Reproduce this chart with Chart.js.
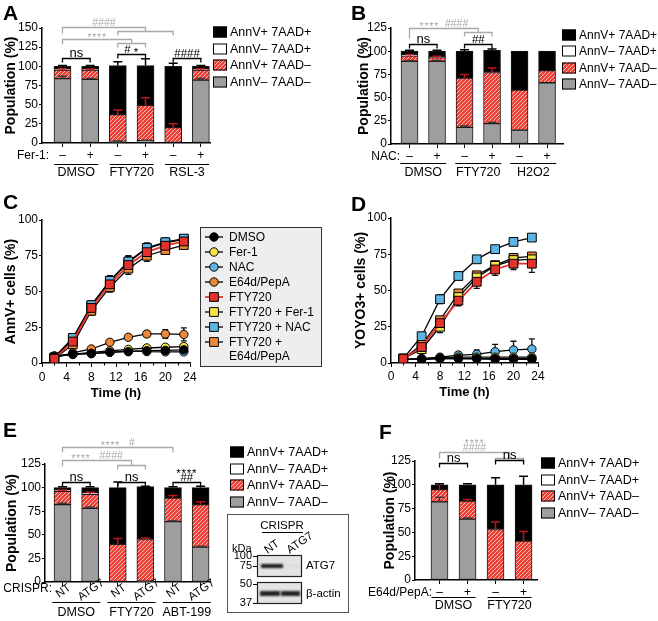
<!DOCTYPE html>
<html>
<head>
<meta charset="utf-8">
<title>Cell death panels A-F</title>
<script src="https://cdn.jsdelivr.net/npm/chart.js@4.4.1/dist/chart.umd.min.js"></script>
<style>
  html, body { margin: 0; background: #fff; }
  #fig { position: relative; width: 658px; height: 621px; overflow: hidden; background: #fff;
         font-family: "Liberation Sans", Arial, sans-serif; }
  #fig canvas { position: absolute; }
  .panel { position: absolute; font-weight: bold; font-size: 21px; line-height: 21px; color: #000; }
</style>
</head>
<body>
<div id="fig">
  <canvas id="chartA" width="330" height="190" style="left:0;top:0"></canvas>
  <canvas id="chartB" width="328" height="190" style="left:330px;top:0"></canvas>
  <canvas id="chartC" width="330" height="215" style="left:0;top:195px"></canvas>
  <canvas id="chartD" width="328" height="215" style="left:330px;top:195px"></canvas>
  <canvas id="chartE" width="330" height="211" style="left:0;top:410px"></canvas>
  <canvas id="chartF" width="328" height="211" style="left:330px;top:410px"></canvas>
  <canvas id="blot" width="140" height="116" style="left:220px;top:505px"></canvas>
  <div class="panel" style="left:3px;top:2px">A</div>
  <div class="panel" style="left:351px;top:2px">B</div>
  <div class="panel" style="left:3px;top:191px">C</div>
  <div class="panel" style="left:351px;top:193px">D</div>
  <div class="panel" style="left:3px;top:419px">E</div>
  <div class="panel" style="left:379px;top:421px">F</div>
</div>
<script>
// ---- stacked bars (A, B, E, F), bottom to top:
// AnnV– 7AAD– (live), AnnV+ 7AAD– (early), AnnV– 7AAD+ (pi), AnnV+ 7AAD+ (late)
const stackLabels = ['AnnV+ 7AAD+', 'AnnV– 7AAD+', 'AnnV+ 7AAD–', 'AnnV– 7AAD–'];

const aTicks = ['–', '+', '–', '+', '–', '+'];
const aGroups = ['DMSO', 'FTY720', 'RSL-3'];
const aLive = [84, 83, 2, 3, 0, 82];
const aLiveErr = [3, 1, 0.5, 0.5, 0, 2];
const aEarly = [11, 12, 35, 46, 20, 13];
const aEarlyErr = [2, 1.5, 6, 10, 5, 2];
const aPi = [1, 1, 0, 0, 0, 1];
const aLate = [4, 4, 64, 52, 80, 4];
const aLateErr = [1, 1, 5, 9, 4, 1];

const bTicks = ['–', '+', '–', '+', '–', '+'];
const bGroups = ['DMSO', 'FTY720', 'H2O2'];
const bLive = [89, 89, 18, 22, 15, 66];
const bLiveErr = [1, 1, 1.5, 1.5, 0, 0];
const bEarly = [6, 4, 53, 55, 43, 13];
const bEarlyErr = [1.5, 1.5, 4, 5, 0, 0];
const bPi = [1, 1, 0, 0, 0, 0];
const bLate = [4, 6, 29, 24, 42, 21];
const bLateErr = [1, 1, 1.5, 1.5, 0, 0];

const eTicks = ['NT', 'ATG7', 'NT', 'ATG7', 'NT', 'ATG7'];
const eGroups = ['DMSO', 'FTY720', 'ABT-199'];
const eLive = [82, 78, 0, 1, 64, 37];
const eLiveErr = [1.5, 1.5, 0, 0, 1, 1];
const eEarly = [14, 15, 40, 44, 25, 45];
const eEarlyErr = [1.5, 2, 6, 1.5, 2.5, 3];
const ePi = [1, 2, 0, 0, 0, 0];
const eLate = [3, 5, 60, 56, 11, 18];
const eLateErr = [1, 1, 6, 0.5, 1, 1.5];

const fTicks = ['–', '+', '–', '+'];
const fGroups = ['DMSO', 'FTY720'];
const fLive = [82, 64, 0, 0];
const fLiveErr = [5, 1, 0, 0];
const fEarly = [13, 19, 53, 41];
const fEarlyErr = [6, 1.5, 8, 10];
const fPi = [0, 0, 0, 0];
const fLate = [5, 17, 47, 59];
const fLateErr = [1, 1, 7.5, 9];

// ---- time courses (C: AnnV+, D: YOYO3+)
const hours = [2, 5, 8, 11, 14, 17, 20, 23];
const seriesNames = ['DMSO', 'Fer-1', 'NAC', 'E64d/PepA', 'FTY720',
                     'FTY720 + Fer-1', 'FTY720 + NAC', 'FTY720 + E64d/PepA'];

const cDmso = [5, 6.3, 6.8, 7.5, 7.9, 8.6, 8.8, 9.2];
const cDmsoErr = [1, 1, 0.8, 0.8, 1, 1.2, 1.5, 1.5];
const cFer1 = [4.5, 6, 7.5, 8.5, 9.5, 10.5, 11, 11.5];
const cFer1Err = [0.5, 0.8, 1, 1, 1.2, 1.5, 1.5, 1.8];
const cNac = [4.5, 6, 6.5, 7.5, 8.5, 8, 7.8, 7.8];
const cNacErr = [0.5, 0.8, 1, 1, 1.2, 1.5, 1.5, 1.5];
const cE64 = [4, 7, 9.8, 14.5, 18, 20.3, 20.3, 20];
const cE64Err = [0.5, 0.8, 1, 1.2, 1.5, 2, 3, 4.5];
const cFty = [3, 15, 38.5, 55, 68.5, 77.5, 82, 85];
const cFtyErr = [1, 2.5, 3.5, 4, 4, 4, 3, 2.5];
const cFtyFer1 = [3.5, 16.5, 40, 57, 70.5, 80, 84, 86.5];
const cFtyFer1Err = [1, 2.5, 3, 3.5, 4, 3.5, 3, 2.5];
const cFtyNac = [4, 17.5, 40.5, 57.5, 71, 80.5, 84.5, 87];
const cFtyNacErr = [1, 3, 3, 3.5, 4, 3.5, 3, 2];
const cFtyE64 = [3, 13, 36.5, 53, 66, 75, 79, 82.5];
const cFtyE64Err = [1, 2.5, 3, 3.5, 4, 4, 3, 2];

const dDmso = [2.5, 2.5, 3, 3, 3, 3, 3, 3];
const dDmsoErr = [0.5, 0.5, 0.5, 0.5, 0.5, 0.5, 0.5, 0.5];
const dFer1 = [2.5, 3, 3.5, 4, 4, 4, 4, 4];
const dFer1Err = [0.5, 0.5, 0.5, 1, 1, 1, 1, 1];
const dNac = [2.5, 3, 4, 5.5, 6, 7.8, 9, 9.6];
const dNacErr = [0.5, 1, 1, 2, 3, 5, 6, 7];
const dE64 = [2.5, 2.5, 3, 3, 2.8, 2.5, 2.5, 2.5];
const dE64Err = [0.5, 0.5, 0.5, 0.5, 0.5, 0.5, 0.5, 0.5];
const dFty = [3, 11, 27.5, 43, 56, 64.5, 68.5, 68.5];
const dFtyErr = [0.5, 2, 3, 3.5, 4.5, 4, 4, 6];
const dFtyFer1 = [3, 9.5, 25, 45.5, 59, 67, 71, 71.5];
const dFtyFer1Err = [0.5, 2, 4, 3, 3, 3, 3, 3.5];
const dFtyNac = [3, 18.5, 44, 60, 71.5, 78.5, 83.5, 86.5];
const dFtyNacErr = [0.5, 2.5, 3, 1, 1, 1, 1, 1];
const dFtyE64 = [3, 12.5, 29.5, 48, 60.5, 67.5, 72.5, 73.5];
const dFtyE64Err = [0.5, 2, 2, 2, 2, 2, 2, 2];

// ---------------------------------------------------------------
const FAM = '"Liberation Sans", Arial, sans-serif';
const font = (size, weight) => (weight ? weight + ' ' : '') + size + 'px ' + FAM;
Chart.defaults.font.family = FAM;
Chart.defaults.color = '#000';

const GRAY = '#9e9e9e';
const LIGHT_GRAY = '#a9a9a9';

function hatchPattern() {
  const t = document.createElement('canvas');
  t.width = 4; t.height = 4;
  const g = t.getContext('2d');
  g.fillStyle = '#ef4038';
  g.fillRect(0, 0, 4, 4);
  g.strokeStyle = '#fbcfca';
  g.lineWidth = 0.9;
  g.beginPath();
  g.moveTo(0, 4); g.lineTo(4, 0);
  g.moveTo(-1, 1); g.lineTo(1, -1);
  g.moveTo(3, 5); g.lineTo(5, 3);
  g.stroke();
  return g.createPattern(t, 'repeat');
}
const HATCH = hatchPattern();

// significance text: asterisks sit lower, like the original
function sigText(ctx, s, cx, base, size) {
  const adv = ch => ctx.measureText(ch).width + (ch === '*' ? 0.8 : 0);
  let w = 0;
  for (const ch of s) w += adv(ch);
  let x = cx - w / 2;
  ctx.textAlign = 'left';
  for (const ch of s) {
    ctx.fillText(ch, x, ch === '*' ? base + size * 0.3 : base);
    x += adv(ch);
  }
}

function drawBracket(ctx, px, py, b) {
  const col = b.gray ? LIGHT_GRAY : '#000';
  const xL = px(b.l);
  const sub = Array.isArray(b.r);
  const xR = sub ? (px(b.r[0]) + px(b.r[1])) / 2 : px(b.r);
  const y = Math.round(py(b.y)) + 0.5;
  const drop = b.drop || 4;
  ctx.strokeStyle = col;
  ctx.lineWidth = 1.3;
  ctx.beginPath();
  ctx.moveTo(xL, y + drop);
  ctx.lineTo(xL, y);
  ctx.lineTo(xR, y);
  if (sub) {
    const y2 = Math.round(py(b.y2)) + 0.5;
    ctx.lineTo(xR, y2);
    ctx.moveTo(px(b.r[0]), y2 + 4);
    ctx.lineTo(px(b.r[0]), y2);
    ctx.lineTo(px(b.r[1]), y2);
    ctx.lineTo(px(b.r[1]), y2 + 4);
  } else {
    ctx.lineTo(xR, y + drop);
  }
  ctx.stroke();
  const size = b.gray ? 10.5 : (b.text[0] === 'ns' ? 13 : 11.5);
  ctx.fillStyle = col;
  ctx.font = font(size);
  ctx.textBaseline = 'alphabetic';
  b.text.forEach((t, k) => sigText(ctx, t, (xL + xR) / 2, y - 2 - k * 7, size));
}

const barErrors = {
  id: 'barErrors',
  afterDatasetsDraw(chart) {
    const ctx = chart.ctx, ys = chart.scales.y;
    const unit = (ys.bottom - ys.top) / (ys.max - ys.min);
    ctx.save();
    chart.data.datasets.forEach((d, i) => {
      if (!d.err) return;
      chart.getDatasetMeta(i).data.forEach((el, j) => {
        const e = d.err[j];
        if (!e || !d.data[j].y) return;
        const end = el.y - e * unit;
        ctx.strokeStyle = d.errColor;
        ctx.lineWidth = 1.5;
        ctx.beginPath();
        ctx.moveTo(el.x, el.y); ctx.lineTo(el.x, end);
        ctx.moveTo(el.x - 4.5, end); ctx.lineTo(el.x + 4.5, end);
        ctx.stroke();
      });
    });
    ctx.restore();
  }
};

function stackExtras(p) {
  return {
    id: 'stackExtras',
    afterDraw(chart) {
      const ctx = chart.ctx, xs = chart.scales.x, ys = chart.scales.y;
      const px = i => xs.getPixelForValue(i);
      const py = v => ys.getPixelForValue(v);
      const bottom = chart.chartArea.bottom;
      ctx.save();
      ctx.fillStyle = '#000';
      // treatment row
      const rowY = bottom + (p.rotated ? 7 : 12.2);
      ctx.font = font(12);
      ctx.textAlign = 'right';
      ctx.textBaseline = 'middle';
      ctx.fillText(p.prefix, p.prefixX, rowY);
      if (p.rotated) {
        ctx.font = font(11.5);
        p.ticks.forEach((t, i) => {
          ctx.save();
          ctx.translate(px(i) + 1, bottom + 8 + (t.length > 2 ? 0 : 1));
          ctx.rotate(-35 * Math.PI / 180);
          ctx.textAlign = 'center';
          ctx.fillText(t, 0, 0);
          ctx.restore();
        });
      }
      // group underlines and names
      ctx.font = font(12.5);
      ctx.textAlign = 'center';
      p.groups.forEach((g, k) => {
        const mid = (px(2 * k) + px(2 * k + 1)) / 2;
        ctx.strokeStyle = '#000';
        ctx.lineWidth = 1.2;
        ctx.beginPath();
        ctx.moveTo(mid - p.groupHalf, bottom + p.lineDy + 0.5);
        ctx.lineTo(mid + p.groupHalf, bottom + p.lineDy + 0.5);
        ctx.stroke();
        ctx.fillText(g, mid, bottom + p.labelDy);
      });
      // significance brackets
      p.brackets.forEach(b => drawBracket(ctx, px, py, b));
      // legend, top entry first
      chart.data.datasets.slice().reverse().forEach((d, k) => {
        const x = p.legend[0], y = Math.round(p.legend[1] + k * p.legend[2]);
        ctx.fillStyle = d.backgroundColor;
        ctx.fillRect(x, y - 5.5, 14, 11);
        ctx.strokeStyle = '#000';
        ctx.lineWidth = 1;
        ctx.strokeRect(x + 0.5, y - 5, 13, 10);
        ctx.fillStyle = '#000';
        ctx.font = font(p.legendSize || 12.5);
        ctx.textAlign = 'left';
        ctx.textBaseline = 'middle';
        ctx.fillText(d.label, x + 17, y + 0.5);
      });
      ctx.restore();
    }
  };
}

function stackChart(id, p) {
  const canvas = document.getElementById(id);
  const W = canvas.width, H = canvas.height;
  const xy = arr => arr.map((v, i) => ({ x: i, y: v }));
  const bar = { barThickness: 17, borderColor: '#1a1a1a', borderWidth: 1, borderSkipped: false };
  return new Chart(canvas, {
    type: 'bar',
    data: {
      datasets: [
        { ...bar, label: stackLabels[3], data: xy(p.live), backgroundColor: GRAY, err: p.liveErr, errColor: '#3a3a3a' },
        { ...bar, label: stackLabels[2], data: xy(p.early), backgroundColor: HATCH, err: p.earlyErr, errColor: '#c0141b' },
        { ...bar, label: stackLabels[1], data: xy(p.pi), backgroundColor: '#ffffff' },
        { ...bar, label: stackLabels[0], data: xy(p.late), backgroundColor: '#000000', err: p.lateErr, errColor: '#000' }
      ]
    },
    options: {
      responsive: false,
      animation: false,
      events: [],
      layout: { padding: { left: 0, top: p.area[1], right: W - p.area[2], bottom: 0 } },
      scales: {
        x: {
          type: 'linear', stacked: true, min: p.xMin, max: p.xMax, offset: false,
          afterBuildTicks: s => { s.ticks = p.ticks.map((_, i) => ({ value: i })); },
          afterFit: s => { s.height = H - p.area[3]; },
          ticks: { display: !p.rotated, callback: v => p.ticks[v], font: { size: 12 }, color: '#000',
                   padding: 1, maxRotation: 0, autoSkip: false },
          grid: { display: true, drawOnChartArea: false, offset: false, tickLength: 4, color: '#000', lineWidth: 1 },
          border: { display: true, color: '#000', width: 1.5 }
        },
        y: {
          stacked: true, min: 0, max: p.yMax,
          afterFit: s => { s.width = p.area[0]; },
          ticks: { stepSize: 25, font: { size: 12 }, color: '#000', padding: 1 },
          title: { display: true, text: 'Population (%)', font: { size: 14, weight: 'bold' }, color: '#000',
                   padding: { top: p.titlePad, bottom: 0 } },
          grid: { display: true, drawOnChartArea: false, tickLength: 3, color: '#000', lineWidth: 1 },
          border: { display: true, color: '#000', width: 1.5 }
        }
      },
      plugins: { legend: { display: false }, tooltip: { enabled: false } }
    },
    plugins: [barErrors, stackExtras(p)]
  });
}

// ---- line charts
const seriesStyle = [
  { fill: '#000000', shape: 'circle', line: '#000' },
  { fill: '#f3e54a', shape: 'circle', line: '#000' },
  { fill: '#5db5e6', shape: 'circle', line: '#000' },
  { fill: '#ec8838', shape: 'circle', line: '#000' },
  { fill: '#e3322b', shape: 'rect', line: '#e3322b' },
  { fill: '#f3e54a', shape: 'rect', line: '#000' },
  { fill: '#5db5e6', shape: 'rect', line: '#000' },
  { fill: '#ec8838', shape: 'rect', line: '#000' }
];
const drawOrder = [1, 3, 4, 2, 0, 6, 5, 7];

const lineErrors = {
  id: 'lineErrors',
  beforeDatasetsDraw(chart) {
    const ctx = chart.ctx, ys = chart.scales.y;
    const unit = (ys.bottom - ys.top) / (ys.max - ys.min);
    ctx.save();
    ctx.strokeStyle = '#111';
    ctx.lineWidth = 1.3;
    chart.data.datasets.forEach((d, i) => {
      chart.getDatasetMeta(i).data.forEach((el, j) => {
        const e = d.err[j] * unit;
        if (e < 1.5) return;
        ctx.beginPath();
        ctx.moveTo(el.x, el.y - e); ctx.lineTo(el.x, el.y + e);
        ctx.moveTo(el.x - 3, el.y - e); ctx.lineTo(el.x + 3, el.y - e);
        ctx.moveTo(el.x - 3, el.y + e); ctx.lineTo(el.x + 3, el.y + e);
        ctx.stroke();
      });
    });
    ctx.restore();
  }
};

const xMinorTicks = {
  id: 'xMinorTicks',
  afterDraw(chart) {
    const ctx = chart.ctx, xs = chart.scales.x, b = chart.chartArea.bottom;
    ctx.save();
    ctx.strokeStyle = '#000';
    ctx.lineWidth = 1;
    for (let h = 2; h < 24; h += 4) {
      const x = Math.round(xs.getPixelForValue(h)) + 0.5;
      ctx.beginPath(); ctx.moveTo(x, b); ctx.lineTo(x, b + 2.5); ctx.stroke();
    }
    ctx.restore();
  }
};

function marker(ctx, d, x, y) {
  ctx.fillStyle = d.pointBackgroundColor;
  ctx.strokeStyle = '#000';
  ctx.lineWidth = 1;
  ctx.beginPath();
  if (d.pointStyle === 'rect') {
    const s = d.pointRadius * Math.SQRT1_2;
    ctx.rect(x - s, y - s, 2 * s, 2 * s);
  } else {
    ctx.arc(x, y, d.pointRadius, 0, Math.PI * 2);
  }
  ctx.fill();
  ctx.stroke();
}

const boxedLegend = {
  id: 'boxedLegend',
  afterDraw(chart) {
    const ctx = chart.ctx;
    ctx.save();
    ctx.fillStyle = '#eeeeee';
    ctx.fillRect(200, 32, 122, 140);
    ctx.strokeStyle = '#333';
    ctx.lineWidth = 1;
    ctx.strokeRect(200.5, 32.5, 121, 139);
    ctx.font = font(12);
    ctx.textBaseline = 'middle';
    ctx.textAlign = 'left';
    let y = 42;
    chart.data.datasets.forEach(d => {
      ctx.strokeStyle = d.borderColor;
      ctx.lineWidth = d.borderWidth;
      ctx.beginPath(); ctx.moveTo(205, y); ctx.lineTo(223, y); ctx.stroke();
      marker(ctx, d, 214, y);
      // wrap long names onto a second line
      const words = d.label.split(' ');
      let line = '', lines = [];
      words.forEach(w => {
        const test = line ? line + ' ' + w : w;
        if (ctx.measureText(test).width > 92 && line) { lines.push(line); line = w; } else line = test;
      });
      lines.push(line);
      ctx.fillStyle = '#000';
      lines.forEach((t, k) => ctx.fillText(t, 229, y + 0.5 + k * 14));
      y += 15 + (lines.length - 1) * 14;
    });
    ctx.restore();
  }
};

function lineChart(id, p) {
  const canvas = document.getElementById(id);
  const W = canvas.width, H = canvas.height;
  const datasets = seriesNames.map((name, i) => ({
    label: name,
    data: hours.map((h, k) => ({ x: h, y: p.values[i][k] })),
    err: p.errors[i],
    borderColor: seriesStyle[i].line,
    borderWidth: seriesStyle[i].shape === 'rect' && seriesStyle[i].line !== '#000' ? 1.8 : 1.3,
    pointStyle: seriesStyle[i].shape,
    pointRadius: seriesStyle[i].shape === 'rect' ? 6.2 : 4.2,
    pointBackgroundColor: seriesStyle[i].fill,
    pointBorderColor: '#000',
    pointBorderWidth: 1,
    order: drawOrder[i],
    tension: 0,
    fill: false
  }));
  return new Chart(canvas, {
    type: 'line',
    data: { datasets },
    options: {
      responsive: false,
      animation: false,
      events: [],
      layout: { padding: { left: 0, top: p.area[1], right: W - p.area[2], bottom: 0 } },
      scales: {
        x: {
          type: 'linear', min: 0, max: 24,
          afterFit: s => { s.height = H - p.area[3]; },
          ticks: { stepSize: 4, font: { size: 12 }, color: '#000', padding: p.xPad, maxRotation: 0 },
          title: { display: true, text: 'Time (h)', font: { size: 13, weight: 'bold' }, color: '#000',
                   padding: { top: 0, bottom: p.xTitlePad } },
          grid: { display: true, drawOnChartArea: false, tickLength: 4, color: '#000', lineWidth: 1 },
          border: { display: true, color: '#000', width: 1.5 }
        },
        y: {
          min: 0, max: 100,
          afterFit: s => { s.width = p.area[0]; },
          ticks: { stepSize: 25, font: { size: 12 }, color: '#000', padding: 1 },
          title: { display: true, text: p.yTitle, font: { size: 14, weight: 'bold' }, color: '#000',
                   padding: { top: p.titlePad, bottom: 0 } },
          grid: { display: true, drawOnChartArea: false, tickLength: 3, color: '#000', lineWidth: 1 },
          border: { display: true, color: '#000', width: 1.5 }
        }
      },
      plugins: { legend: { display: false }, tooltip: { enabled: false } }
    },
    plugins: [lineErrors, xMinorTicks].concat(p.legend ? [boxedLegend] : [])
  });
}

// ---- panels
stackChart('chartA', {
  live: aLive, liveErr: aLiveErr, early: aEarly, earlyErr: aEarlyErr, pi: aPi, late: aLate, lateErr: aLateErr,
  ticks: aTicks, groups: aGroups, prefix: 'Fer-1:', prefixX: 49,
  area: [42, 28, 210, 143], xMin: -0.74, xMax: 5.33, yMax: 150, titlePad: 3,
  groupHalf: 22, lineDy: 21, labelDy: 30, legend: [213, 32, 16.7],
  brackets: [
    { l: 0, r: 1, y: 110.5, text: ['ns'] },
    { l: 2, r: 3, y: 116, text: ['# *'] },
    { l: 4, r: 5, y: 110.5, text: ['####'] },
    { l: 0, r: [2, 3], y: 135.5, y2: 130.5, text: ['****'], gray: true, drop: 5 },
    { l: 0, r: [2, 4], y: 151.5, y2: 146, text: ['####'], gray: true, drop: 6 }
  ]
});

stackChart('chartB', {
  live: bLive, liveErr: bLiveErr, early: bEarly, earlyErr: bEarlyErr, pi: bPi, late: bLate, lateErr: bLateErr,
  ticks: bTicks, groups: bGroups, prefix: 'NAC:', prefixX: 70,
  area: [61, 28, 233, 144], xMin: -0.673, xMax: 5.58, yMax: 125, titlePad: 25.6,
  groupHalf: 23, lineDy: 19, labelDy: 29, legend: [232, 35, 16.4], legendSize: 12,
  brackets: [
    { l: 0, r: 1, y: 107.5, text: ['ns'] },
    { l: 2, r: 3, y: 107.5, text: ['##'] },
    { l: 0, r: [2, 3], y: 125, y2: 120.5, text: ['****  ####'], gray: true, drop: 10 }
  ]
});

lineChart('chartC', {
  values: [cDmso, cFer1, cNac, cE64, cFty, cFtyFer1, cFtyNac, cFtyE64],
  errors: [cDmsoErr, cFer1Err, cNacErr, cE64Err, cFtyErr, cFtyFer1Err, cFtyNacErr, cFtyE64Err],
  area: [42, 25, 190, 168], yTitle: 'AnnV+ cells (%)', titlePad: 3, xPad: 3, xTitlePad: 9, legend: true
});

lineChart('chartD', {
  values: [dDmso, dFer1, dNac, dE64, dFty, dFtyFer1, dFtyNac, dFtyE64],
  errors: [dDmsoErr, dFer1Err, dNacErr, dE64Err, dFtyErr, dFtyFer1Err, dFtyNacErr, dFtyE64Err],
  area: [61, 23, 208, 168], yTitle: 'YOYO3+ cells (%)', titlePad: 22.6, xPad: 2.4, xTitlePad: 10, legend: false
});

stackChart('chartE', {
  live: eLive, liveErr: eLiveErr, early: eEarly, earlyErr: eEarlyErr, pi: ePi, late: eLate, lateErr: eLateErr,
  ticks: eTicks, groups: eGroups, prefix: 'CRISPR:', prefixX: 52, rotated: true,
  area: [45, 54, 210, 172], xMin: -0.634, xMax: 5.34, yMax: 125, titlePad: 4,
  groupHalf: 24, lineDy: 20, labelDy: 31, legend: [230, 42, 16.7],
  brackets: [
    { l: 0, r: 4, y: 143, text: ['****   #'], gray: true, drop: 5 },
    { l: 0, r: [2, 3], y: 129, y2: 124, text: ['****   ####'], gray: true, drop: 6 },
    { l: 0, r: 1, y: 106, text: ['ns'] },
    { l: 2, r: 3, y: 106, text: ['ns'] },
    { l: 4, r: 5, y: 106, text: ['##', '****'] }
  ]
});

stackChart('chartF', {
  live: fLive, liveErr: fLiveErr, early: fEarly, earlyErr: fEarlyErr, pi: fPi, late: fLate, lateErr: fLateErr,
  ticks: fTicks, groups: fGroups, prefix: 'E64d/PepA:', prefixX: 102,
  area: [85, 51, 207, 170], xMin: -0.875, xMax: 3.48, yMax: 125, titlePad: 51.6,
  groupHalf: 22, lineDy: 17, labelDy: 26, legend: [211, 53, 16.7],
  brackets: [
    { l: 0, r: [2, 3], y: 134.5, y2: 128, text: ['####', '****'], gray: true, drop: 6 },
    { l: 0, r: 1, y: 122.5, text: ['ns'] },
    { l: 2, r: 3, y: 126, text: ['ns'] }
  ]
});

// ---- western blot inset in E (picture, not data)
(function drawBlot() {
  const g = document.getElementById('blot').getContext('2d');
  g.strokeStyle = '#555';
  g.lineWidth = 1;
  g.strokeRect(7.5, 9.5, 121, 98);
  g.fillStyle = '#000';
  g.font = font(11.5);
  g.textAlign = 'center';
  g.textBaseline = 'middle';
  g.fillText('CRISPR', 62, 21);
  g.beginPath(); g.moveTo(42, 27.5); g.lineTo(83, 27.5); g.strokeStyle = '#000'; g.stroke();
  [['NT', 52, 42], ['ATG7', 80, 38]].forEach(([t, x, y]) => {
    g.save(); g.translate(x, y); g.rotate(-35 * Math.PI / 180); g.fillText(t, 0, 0); g.restore();
  });
  g.font = font(11);
  g.textAlign = 'left';
  g.fillText('kDa', 12, 44);
  g.textAlign = 'right';
  [['100', 51], ['75', 61], ['50', 79], ['37', 98]].forEach(([t, y]) => {
    g.fillText(t, 32, y);
    g.beginPath(); g.moveTo(33, y + 0.5); g.lineTo(37, y + 0.5); g.stroke();
  });
  // membranes
  [[50, 21], [77, 21]].forEach(([y, h]) => {
    g.fillStyle = '#e4e4e4';
    g.fillRect(37, y, 45, h);
    g.strokeStyle = '#222';
    g.lineWidth = 1.2;
    g.strokeRect(37.5, y + 0.5, 44, h);
  });
  g.save();
  g.filter = 'blur(0.8px)';
  g.fillStyle = '#1a1a1a';
  g.fillRect(41, 59, 22, 4);
  g.fillStyle = '#d8d8d8';
  g.fillRect(65, 60, 14, 2);
  g.fillStyle = '#202020';
  g.fillRect(40, 86, 20, 5);
  g.fillRect(61, 86, 19, 5);
  g.restore();
  g.fillStyle = '#000';
  g.textAlign = 'left';
  g.font = font(11.5);
  g.fillText('ATG7', 86, 61);
  g.fillText('β-actin', 86, 89);
})();
</script>
</body>
</html>
